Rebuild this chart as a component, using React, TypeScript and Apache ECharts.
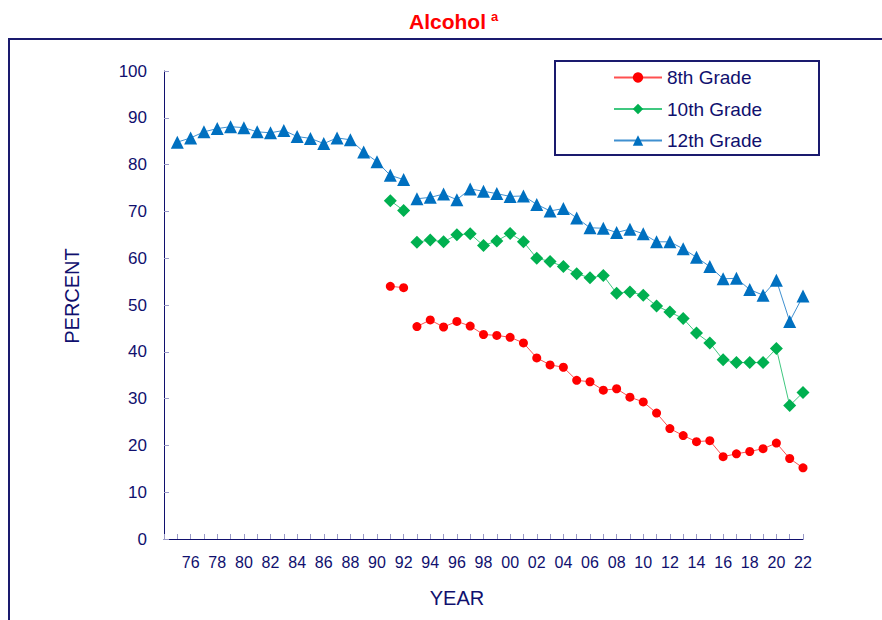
import React, { useEffect, useRef } from "react";
import * as echarts from "echarts";

const firstYear = 1974;
const lastYear = 2022;
const breakYear = 1993;

const years12: number[] = [
  1975, 1976, 1977, 1978, 1979, 1980, 1981, 1982, 1983, 1984, 1985, 1986, 1987, 1988, 1989, 1990,
  1991, 1992, 1993, 1994, 1995, 1996, 1997, 1998, 1999, 2000, 2001, 2002, 2003, 2004, 2005, 2006,
  2007, 2008, 2009, 2010, 2011, 2012, 2013, 2014, 2015, 2016, 2017, 2018, 2019, 2020, 2021, 2022,
];
const grade12: number[] = [
  84.8, 85.7, 87.0, 87.7, 88.1, 87.9, 87.0, 86.8, 87.3, 86.0, 85.6, 84.5, 85.7, 85.3, 82.7, 80.6,
  77.7, 76.8, 72.7, 73.0, 73.7, 72.5, 74.8, 74.3, 73.8, 73.2, 73.3, 71.5, 70.1, 70.6, 68.6, 66.5,
  66.4, 65.5, 66.2, 65.2, 63.5, 63.5, 62.0, 60.2, 58.2, 55.6, 55.7, 53.3, 52.1, 55.3, 46.5, 51.9,
];

const years810: number[] = [
  1991, 1992, 1993, 1994, 1995, 1996, 1997, 1998, 1999, 2000, 2001, 2002, 2003, 2004, 2005, 2006,
  2007, 2008, 2009, 2010, 2011, 2012, 2013, 2014, 2015, 2016, 2017, 2018, 2019, 2020, 2021, 2022,
];
const grade10: number[] = [
  72.3, 70.2, 63.4, 63.9, 63.5, 65.0, 65.2, 62.7, 63.7, 65.3, 63.5, 60.0, 59.3, 58.2, 56.7, 55.8,
  56.3, 52.5, 52.8, 52.1, 49.8, 48.5, 47.1, 44.0, 41.9, 38.3, 37.7, 37.7, 37.7, 40.7, 28.5, 31.3,
];
const grade8: number[] = [
  54.0, 53.7, 45.4, 46.8, 45.3, 46.5, 45.5, 43.7, 43.5, 43.1, 41.9, 38.7, 37.2, 36.7, 33.9, 33.6,
  31.8, 32.1, 30.3, 29.3, 26.9, 23.6, 22.1, 20.8, 21.0, 17.6, 18.2, 18.7, 19.3, 20.5, 17.2, 15.2,
];

const seriesNames = ["8th Grade", "10th Grade", "12th Grade"];
const colors = ["#FF0000", "#00B050", "#0070C0"];
const lineColors = ["#FF5050", "#40C880", "#4090D0"];
const symbols = ["circle", "diamond", "triangle"];
const symbolSizes = [9, 13, 13];

const navy = "#10106E";

function split(years: number[], vals: number[], before: boolean) {
  const out: [number, number][] = [];
  years.forEach((y, i) => {
    if (before ? y < breakYear : y >= breakYear) out.push([y, vals[i]]);
  });
  return out;
}

export default function App() {
  const ref = useRef<HTMLDivElement>(null);
  useEffect(() => {
    if (!ref.current) return;
    const chart = echarts.init(ref.current, null, { renderer: "svg" });
    const sets: [number[], number[]][] = [
      [years810, grade8],
      [years810, grade10],
      [years12, grade12],
    ];
    const series: any[] = [];
    sets.forEach(([ys, vs], k) => {
      [true, false].forEach((before) => {
        series.push({
          name: seriesNames[k],
          type: "line",
          data: split(ys, vs, before),
          symbol: symbols[k],
          symbolSize: symbolSizes[k],
          showSymbol: true,
          itemStyle: { color: colors[k] },
          lineStyle: { color: lineColors[k], width: 1 },
          z: 2 + k,
        });
      });
    });
    chart.setOption({
      animation: false,
      backgroundColor: "#fff",
      title: {
        left: 404,
        top: 5,
        text: "{m|Alcohol} {s|a}",
        textStyle: {
          rich: {
            m: { fontFamily: "Liberation Sans, Arial", fontWeight: "bold", fontSize: 21, color: "#FF0000" },
            s: { fontFamily: "Liberation Sans, Arial", fontWeight: "bold", fontSize: 13, color: "#FF0000", verticalAlign: "top", padding: [0, 0, 10, 0] },
          },
        },
      },
      grid: { left: 164, right: 79, top: 71, bottom: 81 },
      legend: {
        data: seriesNames,
        orient: "vertical",
        left: 608,
        top: 63,
        itemWidth: 48,
        itemHeight: 13,
        itemGap: 12.5,
        textStyle: { fontFamily: "Liberation Sans, Arial", fontSize: 19, color: navy },
      },
      xAxis: {
        type: "value",
        min: firstYear,
        max: lastYear,
        interval: 1,
        splitLine: { show: false },
        axisLine: { lineStyle: { color: navy, width: 1 } },
        axisTick: { inside: true, length: 5, lineStyle: { color: "#9A9AC8" } },
        axisLabel: {
          fontFamily: "Liberation Sans, Arial",
          fontSize: 16,
          color: navy,
          margin: 15,
          formatter: (v: number) =>
            v % 2 === 0 && v >= 1976 ? String(v % 100).padStart(2, "0") : "",
        },
      },
      yAxis: {
        type: "value",
        min: 0,
        max: 100,
        interval: 10,
        splitLine: { show: false },
        axisLine: { show: true, lineStyle: { color: navy, width: 1 } },
        axisTick: { show: true, inside: true, length: 5, lineStyle: { color: "#9A9AC8" } },
        axisLabel: { fontFamily: "Liberation Sans, Arial", fontSize: 17, color: navy, margin: 17 },
      },
      graphic: [
        {
          type: "rect",
          shape: { x: 9, y: 39, width: 900, height: 620 },
          style: { fill: "none", stroke: "#1A1A6E", lineWidth: 2 },
          silent: true,
        },
        {
          type: "rect",
          shape: { x: 555, y: 61, width: 264, height: 94 },
          style: { fill: "none", stroke: "#1A1A6E", lineWidth: 2 },
          silent: true,
        },
        {
          type: "text",
          x: 72,
          y: 296,
          rotation: Math.PI / 2,
          style: {
            text: "PERCENT",
            fontFamily: "Liberation Sans, Arial",
            fontSize: 20,
            fill: navy,
            textAlign: "center",
            textVerticalAlign: "middle",
          },
        },
        {
          type: "text",
          x: 457,
          y: 598,
          style: {
            text: "YEAR",
            fontFamily: "Liberation Sans, Arial",
            fontSize: 20,
            fill: navy,
            textAlign: "center",
            textVerticalAlign: "middle",
          },
        },
      ],
      series,
    });
    return () => chart.dispose();
  }, []);
  return <div ref={ref} style={{ width: 882, height: 620, position: "fixed", left: 0, top: 0 }} />;
}
